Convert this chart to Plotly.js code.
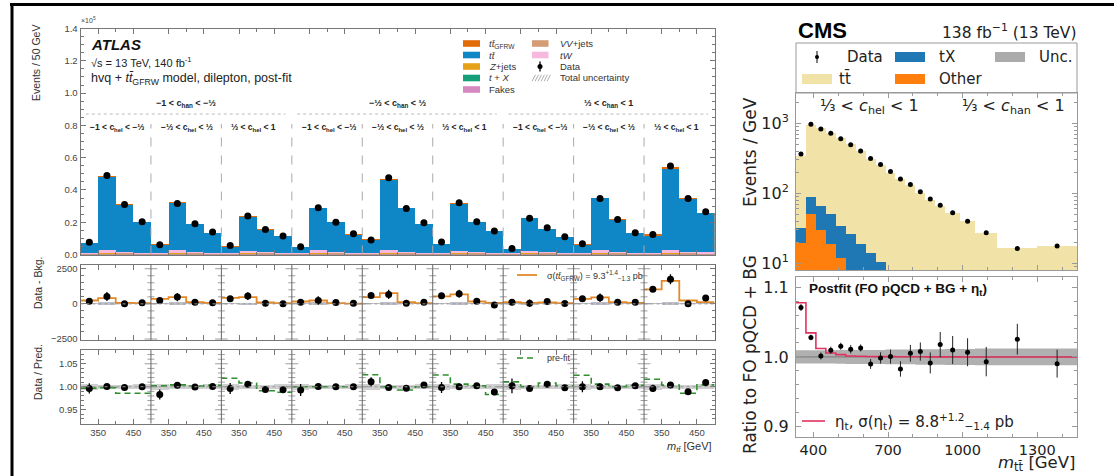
<!DOCTYPE html>
<html><head><meta charset="utf-8">
<script src="https://cdn.plot.ly/plotly-3.0.1.min.js"></script>
<style>html,body{margin:0;padding:0;background:#fff}#chart{width:1114px;height:476px}</style>
</head><body><div id="chart"></div>
<script>
const W = 1114, H = 476;
const AF = 'Liberation Sans, Arial, sans-serif';
const CF = 'DejaVu Sans, sans-serif';

// ---------------- ATLAS data (9 regions x 4 m_tt bins) ----------------
const atlasHanLabels = ['−1 < c<sub>han</sub> < −⅓', '−⅓ < c<sub>han</sub> < ⅓', '⅓ < c<sub>han</sub> < 1'];
const atlasHelLabels = ['−1 < c<sub>hel</sub> < −⅓', '−⅓ < c<sub>hel</sub> < ⅓', '⅓ < c<sub>hel</sub> < 1'];
const atlasBinEdges = [300, 350, 400, 450, 500];
const atlasTickLabels = ['350', '450'];
// stack total (units of 1e5 events)
const atlasTotal = [
  0.072,0.486,0.310,0.200, 0.062,0.325,0.190,0.134, 0.052,0.238,0.155,0.114,
  0.048,0.290,0.200,0.124, 0.097,0.470,0.290,0.190, 0.068,0.320,0.200,0.145,
  0.035,0.228,0.161,0.108, 0.062,0.352,0.217,0.134, 0.124,0.544,0.347,0.259];
const atlasData = [
  0.076,0.490,0.310,0.203, 0.060,0.316,0.190,0.140, 0.056,0.238,0.155,0.114,
  0.048,0.290,0.200,0.128, 0.090,0.475,0.285,0.196, 0.078,0.320,0.203,0.145,
  0.037,0.225,0.165,0.110, 0.066,0.347,0.217,0.134, 0.124,0.548,0.347,0.265];
const atlasFakes = [
  0.003,0.006,0.004,0.003, 0.003,0.006,0.004,0.003, 0.003,0.005,0.004,0.003,
  0.003,0.006,0.004,0.003, 0.003,0.006,0.004,0.003, 0.003,0.006,0.004,0.003,
  0.003,0.005,0.004,0.003, 0.003,0.006,0.004,0.003, 0.003,0.006,0.004,0.003];
const atlasZjets = [
  0.001,0.002,0.001,0.001, 0.001,0.002,0.001,0.001, 0.001,0.002,0.001,0.001,
  0.001,0.002,0.001,0.001, 0.001,0.002,0.001,0.001, 0.001,0.002,0.001,0.001,
  0.001,0.002,0.001,0.001, 0.001,0.002,0.001,0.001, 0.001,0.002,0.001,0.001];
const atlasTX = [
  0.001,0.002,0.001,0.001, 0.001,0.002,0.001,0.001, 0.001,0.002,0.001,0.001,
  0.001,0.002,0.001,0.001, 0.001,0.002,0.001,0.001, 0.001,0.002,0.001,0.001,
  0.001,0.002,0.001,0.001, 0.001,0.002,0.001,0.001, 0.001,0.002,0.001,0.001];
const atlasVV = [
  0.001,0.001,0.001,0.001, 0.001,0.001,0.001,0.001, 0.001,0.001,0.001,0.001,
  0.001,0.001,0.001,0.001, 0.001,0.001,0.001,0.001, 0.001,0.001,0.001,0.001,
  0.001,0.001,0.001,0.001, 0.001,0.001,0.001,0.001, 0.001,0.001,0.001,0.001];
const atlasTW = [
  0.004,0.016,0.008,0.006, 0.004,0.014,0.007,0.005, 0.003,0.012,0.006,0.005,
  0.004,0.014,0.007,0.005, 0.004,0.016,0.008,0.006, 0.004,0.013,0.007,0.005,
  0.003,0.011,0.006,0.005, 0.004,0.014,0.007,0.005, 0.004,0.016,0.009,0.007];
// fitted tt_GFRW signal (events), also shown in Data - Bkg. panel
const atlasSig = [
  240,409,72,48, 360,481,120,72, 433,481,96,48,
  168,240,48,24, 481,769,120,48, 529,673,168,72,
  120,72,96,48, 360,457,120,72, 1034,1635,240,120];
const atlasDiff = [
  192,529,0,72, 240,481,120,72, 360,553,48,0,
  120,240,96,48, 601,673,48,120, 577,721,192,-72,
  120,48,168,24, 360,433,120,120, 1034,1755,0,409];
const atlasDiffErr = [
  110,320,150,140, 100,300,140,120, 100,270,130,110,
  100,300,150,120, 120,330,170,140, 110,290,150,130,
  90,270,140,110, 110,300,150,120, 130,360,190,160];
const atlasDiffUnc = [
  35,110,35,30, 35,100,35,30, 30,95,30,30,
  35,100,35,30, 40,110,35,30, 35,100,35,30,
  30,95,30,30, 35,100,35,30, 40,110,40,35];
const atlasRatio = [
  0.9964,1.0007,0.9986,1.0000, 0.9830,1.0030,0.9993,1.0007, 0.9964,1.0057,0.9940,0.9936,
  0.9930,1.0007,1.0000,1.0000, 1.0107,0.9986,0.9970,1.0036, 0.9986,1.0000,1.0020,0.9886,
  1.0020,0.9964,1.0057,0.9979, 1.0000,1.0000,0.9980,1.0020, 0.9964,1.0036,0.9893,1.0093];
const atlasRatioErr = [
  0.011,0.004,0.004,0.005, 0.011,0.004,0.004,0.005, 0.012,0.004,0.004,0.005,
  0.013,0.004,0.004,0.005, 0.010,0.004,0.004,0.005, 0.012,0.004,0.004,0.006,
  0.016,0.004,0.004,0.005, 0.012,0.004,0.004,0.005, 0.008,0.004,0.004,0.005];
const atlasPrefit = [
  0.997,0.998,0.986,0.986, 1.002,1.004,1.0014,1.003, 1.0186,1.008,0.9914,0.988,
  1.000,1.000,1.000,1.000, 1.026,1.000,0.993,1.000, 1.0257,1.0057,1.002,0.983,
  1.0107,1.000,1.008,1.002, 1.025,1.0057,1.000,1.003, 1.0164,1.0036,0.9857,1.004];
const atlasRatioUnc = [
  0.007,0.004,0.004,0.005, 0.007,0.004,0.004,0.005, 0.007,0.004,0.004,0.005,
  0.007,0.004,0.004,0.005, 0.007,0.004,0.004,0.005, 0.007,0.004,0.004,0.005,
  0.007,0.004,0.004,0.005, 0.007,0.004,0.004,0.005, 0.007,0.004,0.004,0.005];

// ---------------- CMS data ----------------
const cmsEdges = [330,370,410,450,490,530,570,610,650,690,730,770,810,850,890,930,990,1050,1140,1300,1460];
const cmsTtbar = [309.4,856.4,783.1,685,590,475.1,383.3,292.1,243.4,189,151.2,126,97.8,76.5,63.7,49.7,39.2,26,15.85,17.3];
const cmsTX = [12.3,39.6,36.0,31.3,22,20.9,14.7,10.9,8.1,6,5,4,3,2.5,2,1.5,1,0.6,0.4,0.3];
const cmsOther = [19.3,50,29.9,18.7,12,5,4,3,2.5,2,1.8,1.5,1.2,1,0.8,0.6,0.4,0.2,0.15,0.1];
const cmsData = [364,968,830,720,603,494,402,313,257,204,160,133,105,83,67.5,52.9,39.8,27.4,16.2,17.7];
const cmsRatio = [1.0708,1.0278,1.0014,1.0096,1.0153,1.011,1.0129,0.990,0.9986,1.0005,0.9828,1.0053,1.0077,0.9914,1.0177,1.010,1.0067,0.9933,1.0254,0.9904];
const cmsRatioErr = [0.005,0.004,0.005,0.005,0.005,0.006,0.005,0.007,0.008,0.010,0.011,0.012,0.013,0.015,0.018,0.020,0.020,0.021,0.022,0.020];
const cmsEta = [1.0775,1.0344,1.012,1.0057,1.0033,1.0014,1.001,1.0007,1.0005,1.0004,1.0003,1.0002,1.0002,1.0001,1.0001,1.0001,1.0,1.0,1.0,1.0];
const cmsUnc = [0.0095,0.0095,0.0095,0.0095,0.0098,0.010,0.010,0.010,0.010,0.0105,0.0105,0.0105,0.011,0.011,0.011,0.0115,0.0115,0.012,0.012,0.012];

// ---------------- helpers ----------------
const X = px => px / W, Y = py => 1 - py / H;
const col = {gfrw:'#e36c0a', tt:'#0f86c6', zj:'#e6a117', tx:'#16a07a', fk:'#d688c0', vv:'#d49c74', tw:'#f6b9dd'};
const cmsCol = {tt:'#f1e2a8', tx:'#1f77b4', oth:'#ff7f0e', unc:'#ababab'};
const NREG = 9;
const cx = [];
for (let r = 0; r < NREG; r++) for (let b = 0; b < 4; b++) cx.push(200*r + (atlasBinEdges[b] + atlasBinEdges[b+1])/2 - atlasBinEdges[0]);
const cum = (...arrs) => arrs[0].map((_, i) => arrs.reduce((s, a) => s + a[i], 0));
const sigStack = atlasSig.map(v => v / 1e5);
const traces = [];
function bar(x, y, color, xa, ya, extra) {
  return Object.assign({type:'bar', x, y, width:50, marker:{color, line:{width:0}}, xaxis:xa, yaxis:ya, showlegend:false, hoverinfo:'skip'}, extra || {});
}
// top stacked (overlay, cumulative)
const bkgSmall = cum(atlasFakes, atlasZjets, atlasTX, atlasVV, atlasTW);
traces.push(bar(cx, atlasTotal, col.gfrw, 'x', 'y'));
traces.push(bar(cx, atlasTotal.map((t, i) => t - sigStack[i]), col.tt, 'x', 'y'));
traces.push(bar(cx, bkgSmall, col.tw, 'x', 'y'));
traces.push(bar(cx, cum(atlasFakes, atlasZjets, atlasTX, atlasVV), col.vv, 'x', 'y'));
traces.push(bar(cx, cum(atlasFakes, atlasZjets, atlasTX), col.tx, 'x', 'y'));
traces.push(bar(cx, cum(atlasFakes, atlasZjets), col.zj, 'x', 'y'));
traces.push(bar(cx, atlasFakes, col.fk, 'x', 'y'));
traces.push({type:'scatter', mode:'markers', x:cx, y:atlasData, xaxis:'x', yaxis:'y', marker:{color:'#000', size:7}, showlegend:false, hoverinfo:'skip'});

function stepXY(vals) {
  const xs = [], ys = [];
  for (let r = 0; r < NREG; r++) {
    for (let b = 0; b < 4; b++) { xs.push(200*r + atlasBinEdges[b] - atlasBinEdges[0]); ys.push(vals[4*r+b]); }
    xs.push(200*r + 200); ys.push(vals[4*r+3]);
    xs.push(null); ys.push(null);
  }
  return {xs, ys};
}
// middle panel
traces.push(bar(cx, atlasDiffUnc.map(u => 2*u), 'rgba(150,150,170,0.6)', 'x2', 'y2', {base: atlasDiffUnc.map(u => -u)}));
const s1 = stepXY(atlasSig);
traces.push({type:'scatter', mode:'lines', x:s1.xs, y:s1.ys, line:{shape:'hv', color:'#e4892a', width:1.8}, xaxis:'x2', yaxis:'y2', showlegend:false, hoverinfo:'skip', connectgaps:false});
traces.push({type:'scatter', mode:'markers', x:cx, y:atlasDiff, error_y:{type:'data', array:atlasDiffErr, color:'#000', thickness:1.3, width:0}, marker:{color:'#000', size:7}, xaxis:'x2', yaxis:'y2', showlegend:false, hoverinfo:'skip'});
// bottom panel
traces.push(bar(cx, atlasRatioUnc.map(u => 2*u), 'rgba(170,170,170,0.55)', 'x3', 'y3', {base: atlasRatioUnc.map(u => 1 - u)}));
const s2 = stepXY(atlasPrefit);
traces.push({type:'scatter', mode:'lines', x:s2.xs, y:s2.ys, line:{shape:'hv', color:'#2f8f2f', width:1.6, dash:'6px,4px'}, xaxis:'x3', yaxis:'y3', showlegend:false, hoverinfo:'skip', connectgaps:false});
traces.push({type:'scatter', mode:'markers', x:cx, y:atlasRatio, error_y:{type:'data', array:atlasRatioErr, color:'#000', thickness:1.3, width:0}, marker:{color:'#000', size:7}, xaxis:'x3', yaxis:'y3', showlegend:false, hoverinfo:'skip'});

// separator tick marks (lower panels)
function sepTicks(major, minor, xa, ya) {
  const xs = [], ys = [], ss = [];
  for (let k = 1; k < NREG; k++) {
    major.forEach(v => { xs.push(200*k); ys.push(v); ss.push(9); });
    minor.forEach(v => { xs.push(200*k); ys.push(v); ss.push(5); });
  }
  return {type:'scatter', mode:'markers', x:xs, y:ys, xaxis:xa, yaxis:ya, marker:{symbol:'line-ew', size:ss, line:{color:'#777', width:1}}, showlegend:false, hoverinfo:'skip'};
}
const midMajor = [-2500, 0, 2500], midMinor = [];
for (let v = -2000; v <= 2500; v += 500) if (v % 2500 !== 0) midMinor.push(v);
const botMajor = [0.95, 1.0, 1.05], botMinor = [];
for (let i = 93; i <= 107; i++) if (i % 5 !== 0) botMinor.push(i/100);
traces.push(sepTicks(midMajor, midMinor, 'x2', 'y2'));
traces.push(sepTicks(botMajor, botMinor, 'x3', 'y3'));

// ---------------- CMS traces ----------------
const cmsCx = cmsEdges.slice(0, -1).map((e, i) => (e + cmsEdges[i+1]) / 2);
const cmsW = cmsEdges.slice(0, -1).map((e, i) => cmsEdges[i+1] - e);
function cbar(y, color) { return {type:'bar', x:cmsCx, y, width:cmsW, marker:{color, line:{width:0}}, xaxis:'x4', yaxis:'y4', showlegend:false, hoverinfo:'skip'}; }
traces.push(cbar(cum(cmsOther, cmsTX, cmsTtbar), cmsCol.tt));
traces.push(cbar(cum(cmsOther, cmsTX), cmsCol.tx));
traces.push(cbar(cmsOther, cmsCol.oth));
traces.push({type:'scatter', mode:'markers', x:cmsCx, y:cmsData, xaxis:'x4', yaxis:'y4', marker:{color:'#000', size:5}, showlegend:false, hoverinfo:'skip'});
function cstep(vals) { return {xs: cmsEdges.slice(), ys: vals.concat([vals[vals.length-1]])}; }
const lo = cstep(cmsUnc.map(u => 1 - u)), hi = cstep(cmsUnc.map(u => 1 + u));
traces.push({type:'scatter', mode:'lines', x:lo.xs, y:lo.ys, line:{shape:'hv', width:0, color:'rgba(0,0,0,0)'}, xaxis:'x5', yaxis:'y5', showlegend:false, hoverinfo:'skip'});
traces.push({type:'scatter', mode:'lines', x:hi.xs, y:hi.ys, line:{shape:'hv', width:0, color:'rgba(0,0,0,0)'}, fill:'tonexty', fillcolor:'rgba(150,150,150,0.75)', xaxis:'x5', yaxis:'y5', showlegend:false, hoverinfo:'skip'});
traces.push({type:'scatter', mode:'lines', x:[cmsEdges[0], cmsEdges[cmsEdges.length-1]], y:[1, 1], line:{color:'#777', width:1}, xaxis:'x5', yaxis:'y5', showlegend:false, hoverinfo:'skip'});
const et = cstep(cmsEta);
traces.push({type:'scatter', mode:'lines', x:et.xs, y:et.ys, line:{shape:'hv', color:'#e0325f', width:1.6}, xaxis:'x5', yaxis:'y5', showlegend:false, hoverinfo:'skip'});
traces.push({type:'scatter', mode:'markers', x:cmsCx, y:cmsRatio, error_y:{type:'data', array:cmsRatioErr, color:'#222', thickness:1, width:0}, marker:{color:'#000', size:5}, xaxis:'x5', yaxis:'y5', showlegend:false, hoverinfo:'skip'});

// ---------------- axes ----------------
const aDom = [X(80.5), X(714.5)];
const majT = [], minT = [];
for (let r = 0; r < NREG; r++) { majT.push(200*r + 50, 200*r + 150); minT.push(200*r + 100); }
const majL = []; for (let r = 0; r < NREG; r++) majL.push(...atlasTickLabels);
function ax(extra) {
  return Object.assign({showgrid:false, zeroline:false, showline:true, linecolor:'#777', linewidth:1, mirror:'ticks', ticks:'inside', tickcolor:'#777', ticklen:5, automargin:false, fixedrange:true}, extra);
}
const xA = (anchor, show) => ax({domain:aDom, range:[0, 1800], anchor, tickmode:'array', tickvals:majT, ticktext:majL, showticklabels:show, tickfont:{family:AF, size:9.5, color:'#444'}, minor:{tickmode:'array', tickvals:minT, ticks:'inside', ticklen:3, tickcolor:'#777'}});
const layout = {
  width: W, height: H, margin:{l:0, r:0, t:0, b:0}, paper_bgcolor:'#fff', plot_bgcolor:'rgba(0,0,0,0)',
  barmode:'overlay', bargap:0, showlegend:false,
  xaxis: xA('y', false),
  yaxis: ax({domain:[Y(254.5), Y(28.5)], range:[0, 1.4], anchor:'x', dtick:0.2, tickformat:'.1f', tickfont:{family:AF, size:9.5, color:'#444'}, minor:{dtick:0.05, ticks:'inside', ticklen:3, tickcolor:'#777'}}),
  xaxis2: xA('y2', false),
  yaxis2: ax({domain:[Y(340), Y(264.5)], range:[-2570, 2800], anchor:'x2', tickmode:'array', tickvals:[-2500, 0, 2500], ticktext:['−2500', '0', '2500'], tickfont:{family:AF, size:9.5, color:'#444'}, linecolor:'#666', minor:{tickmode:'array', tickvals:midMinor, ticks:'inside', ticklen:3, tickcolor:'#777'}}),
  xaxis3: xA('y3', true),
  yaxis3: ax({domain:[Y(423.5), Y(350)], range:[0.92, 1.08], anchor:'x3', tickmode:'array', tickvals:[0.95, 1.0, 1.05], ticktext:['0.95', '1.00', '1.05'], tickfont:{family:AF, size:9.5, color:'#444'}, minor:{tickmode:'array', tickvals:botMinor, ticks:'inside', ticklen:3, tickcolor:'#777'}}),
  xaxis4: ax({domain:[X(796), X(1077)], range:[330, 1460], anchor:'y4', tickvals:[400, 700, 1000, 1300], tickmode:'array', showticklabels:false, linecolor:'#999', tickcolor:'#999', minor:{dtick:100, ticks:'inside', ticklen:3, tickcolor:'#999'}}),
  yaxis4: ax({domain:[Y(270), Y(93)], type:'log', range:[0.904, 3.433], anchor:'x4', tickmode:'array', tickvals:[10, 100, 1000], ticktext:['10<sup>1</sup>', '10<sup>2</sup>', '10<sup>3</sup>'], tickfont:{family:CF, size:16, color:'#222'}, linecolor:'#999', tickcolor:'#999', ticklabelstandoff:3, minor:{tickmode:'array', tickvals:[9,20,30,40,50,60,70,80,90,200,300,400,500,600,700,800,900,2000], ticks:'inside', ticklen:3, tickcolor:'#999'}}),
  xaxis5: ax({domain:[X(796), X(1077)], range:[330, 1460], anchor:'y5', tickmode:'array', tickvals:[400, 700, 1000, 1300], tickfont:{family:CF, size:14.5, color:'#222'}, linecolor:'#999', tickcolor:'#999', ticklabelstandoff:0, minor:{dtick:100, ticks:'inside', ticklen:3, tickcolor:'#999'}}),
  yaxis5: ax({domain:[Y(436.5), Y(276.7)], range:[0.8862, 1.1148], anchor:'x5', tickmode:'array', tickvals:[0.9, 1.0, 1.1], ticktext:['0.9', '1.0', '1.1'], tickfont:{family:CF, size:16, color:'#222'}, linecolor:'#999', tickcolor:'#999', ticklabelstandoff:3, minor:{dtick:0.02, ticks:'inside', ticklen:3, tickcolor:'#999'}}),
  shapes: [], annotations: []
};
const S = layout.shapes, A = layout.annotations;
const pline = (x0, y0, x1, y1, color, width, dash) => S.push({type:'line', xref:'paper', yref:'paper', x0:X(x0), y0:Y(y0), x1:X(x1), y1:Y(y1), line:{color, width, dash: dash || 'solid'}});
const prect = (x0, y0, x1, y1, fill, lc) => S.push({type:'rect', xref:'paper', yref:'paper', x0:X(x0), y0:Y(y0), x1:X(x1), y1:Y(y1), fillcolor:fill, line:{color: lc || fill, width: lc ? 1 : 0}});
function txt(text, x, y, size, family, opts) {
  A.push(Object.assign({text, x:X(x), y:Y(y), xref:'paper', yref:'paper', showarrow:false, xanchor:'left', yanchor:'middle', font:{size, family, color:'#222'}}, opts || {}));
}
// outer frame
pline(10, 4.5, 1114, 4.5, '#000', 3);
pline(12, 3, 12, 476, '#000', 3);

// ATLAS top panel decorations
for (let k = 1; k < NREG; k++) S.push({type:'line', xref:'x', yref:'y', x0:200*k, x1:200*k, y0:0, y1:0.808, line:{color:'#aaa', width:1, dash:'dash'}});
for (let g = 0; g < 3; g++) {
  S.push({type:'line', xref:'x', yref:'y', x0:600*g + 15, x1:600*g + 582, y0:0.87, y1:0.87, line:{color:'#bbb', width:1, dash:'dot'}});
  A.push({text:'<b>' + atlasHanLabels[g] + '</b>', x:600*g + 300, y:0.938, xref:'x', yref:'y', showarrow:false, xanchor:'center', yanchor:'middle', font:{size:9, family:AF, color:'#222'}});
}
for (let r = 0; r < NREG; r++) A.push({text:'<b>' + atlasHelLabels[r % 3] + '</b>', x:200*r + 22, y:0.784, xref:'x', yref:'y', showarrow:false, xanchor:'left', yanchor:'middle', font:{size:8.5, family:AF, color:'#222'}});
// lower-panel separators and reference lines
for (let k = 1; k < NREG; k++) {
  S.push({type:'line', xref:'x2', yref:'y2 domain', x0:200*k, x1:200*k, y0:0, y1:1, line:{color:'#666', width:1}});
  S.push({type:'line', xref:'x3', yref:'y3 domain', x0:200*k, x1:200*k, y0:0, y1:1, line:{color:'#666', width:1}});
}
S.push({type:'line', xref:'x2', yref:'y2', x0:0, x1:1800, y0:0, y1:0, line:{color:'#999', width:1, dash:'dot'}});
S.push({type:'line', xref:'x3', yref:'y3', x0:0, x1:1800, y0:1, y1:1, line:{color:'#999', width:1, dash:'dot'}});

// ATLAS texts
txt('×10<sup>5</sup>', 79, 20, 7, AF, {font:{size:7, family:AF, color:'#444'}});
txt('<b><i>ATLAS</i></b>', 89, 44, 15, AF, {font:{size:15, family:AF, color:'#111'}});
txt('√s = 13 TeV, 140 fb<sup>-1</sup>', 89, 62, 11, AF);
txt('hvq + <i>tt̄</i><sub>GFRW</sub> model, dilepton, post-fit', 89, 79, 12.5, AF);
txt('Events / 50 GeV', 36, 63, 10.5, AF, {textangle:-90, xanchor:'center', font:{size:10.5, family:AF, color:'#333'}});
txt('Data - Bkg.', 38, 283, 10.5, AF, {textangle:-90, xanchor:'center', font:{size:10.5, family:AF, color:'#333'}});
txt('Data / Pred.', 38, 372, 10.5, AF, {textangle:-90, xanchor:'center', font:{size:10.5, family:AF, color:'#333'}});
txt('<i>m</i><sub><i>tt̄</i></sub> [GeV]', 714, 447, 11, AF, {xanchor:'right', font:{size:11, family:AF, color:'#333'}});
// ATLAS legend
const lgRows = [43.5, 55, 66.5, 78, 89.5];
const lg1 = [[col.gfrw, '<i>tt̄</i><sub>GFRW</sub>'], [col.tt, '<i>tt̄</i>'], [col.zj, '<i>Z</i>+jets'], [col.tx, '<i>t</i> + <i>X</i>'], [col.fk, 'Fakes']];
lg1.forEach((e, i) => { prect(463, lgRows[i] - 3.3, 480, lgRows[i] + 3.3, e[0]); txt(e[1], 487, lgRows[i], 9.5, AF, {font:{size:9.5, family:AF, color:'#333'}}); });
prect(532, lgRows[0] - 3.3, 548.5, lgRows[0] + 3.3, col.vv); txt('<i>VV</i>+jets', 558, lgRows[0], 9.5, AF, {font:{size:9.5, family:AF, color:'#333'}});
prect(532, lgRows[1] - 3.3, 548.5, lgRows[1] + 3.3, col.tw); txt('<i>tW</i>', 558, lgRows[1], 9.5, AF, {font:{size:9.5, family:AF, color:'#333'}});
S.push({type:'circle', xref:'paper', yref:'paper', x0:X(537.5), x1:X(542.5), y0:Y(lgRows[2] - 2.5), y1:Y(lgRows[2] + 2.5), fillcolor:'#000', line:{width:0}});
pline(540, lgRows[2] - 5, 540, lgRows[2] + 5, '#000', 1.3);
txt('Data', 558, lgRows[2], 9.5, AF, {font:{size:9.5, family:AF, color:'#333'}});
for (let j = 0; j < 6; j++) pline(532 + j*3, lgRows[3] + 3.3, 535.5 + j*3, lgRows[3] - 3.3, '#999', 0.8);
txt('Total uncertainty', 558, lgRows[3], 9.5, AF, {font:{size:9.5, family:AF, color:'#333'}});
pline(517, 275, 537, 275, '#e4892a', 1.8);
txt('σ(<i>tt̄</i><sub>GFRW</sub>) = 9.3<sup>+1.4</sup><sub>−1.3</sub> pb', 545, 275, 9, AF, {font:{size:9, family:AF, color:'#333'}});
pline(517, 358, 537, 358, '#2f8f2f', 1.6, '6px,4px');
txt('pre-fit', 545, 358, 9, AF, {font:{size:9, family:AF, color:'#333'}});

// CMS texts & legend
txt('<b>CMS</b>', 796, 31, 22, AF, {font:{size:22, family:AF, color:'#000'}});
txt('138 fb<sup>−1</sup> (13 TeV)', 1078, 32, 15.5, CF, {xanchor:'right'});
prect(796, 43, 1077, 93, 'rgba(0,0,0,0)', '#999');
S.push({type:'circle', xref:'paper', yref:'paper', x0:X(815), x1:X(819), y0:Y(59), y1:Y(55), fillcolor:'#000', line:{width:0}});
pline(817, 51, 817, 63, '#000', 1);
txt('Data', 845, 57, 15, CF);
prect(895, 52, 925, 62, cmsCol.tx); txt('tX', 937, 57, 15, CF);
prect(995, 52, 1025, 62, cmsCol.unc); txt('Unc.', 1037, 57, 15, CF);
prect(802, 74, 832, 84, cmsCol.tt); txt('tt̄', 837, 79, 15, CF);
prect(895, 74, 925, 84, cmsCol.oth); txt('Other', 937, 79, 15, CF);
txt('⅓ < <i>c</i><sub>hel</sub> < 1', 818, 106, 16, CF);
txt('⅓ < <i>c</i><sub>han</sub> < 1', 960, 106, 16, CF);
txt('Events / GeV', 750, 152, 17, CF, {textangle:-90, xanchor:'center'});
txt('Ratio to FO pQCD + BG', 750, 355, 17, CF, {textangle:-90, xanchor:'center'});
txt('<b>Postfit (FO pQCD + BG + η<sub>t</sub>)</b>', 807, 289, 13.5, AF, {font:{size:13.5, family:AF, color:'#111'}});
pline(802, 421, 825, 421, '#e0325f', 1.6);
txt('η<sub>t</sub>, σ(η<sub>t</sub>) = 8.8<sup>+1.2</sup><sub>−1.4</sub> pb', 833, 421, 15, CF);
txt('<i>m</i><sub>tt̄</sub> [GeV]', 1078, 476, 16.5, CF, {xanchor:'right', yanchor:'bottom'});

Plotly.newPlot('chart', traces, layout, {staticPlot:true, displayModeBar:false});
</script>
</body></html>
